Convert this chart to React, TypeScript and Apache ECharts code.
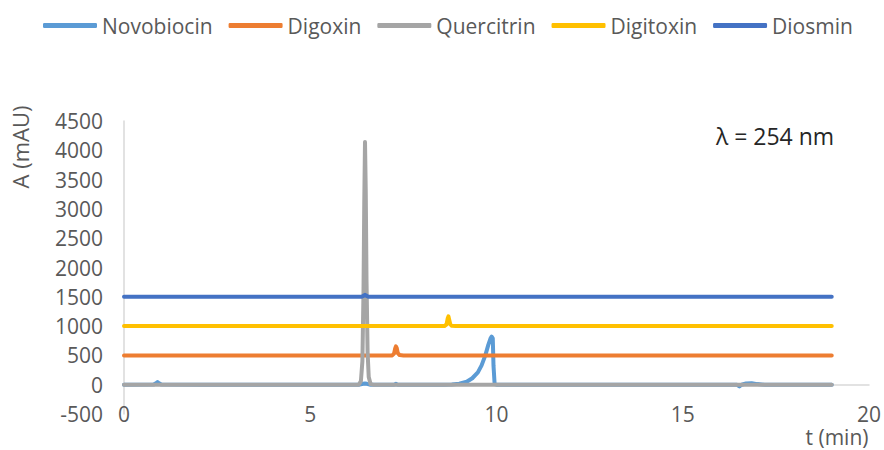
import React, { useEffect, useRef } from "react";
import * as echarts from "echarts";

// time (min), absorbance (mAU)
const novobiocin: [number, number][] = [
  [0, 0], [0.8, 2], [0.86, 25], [0.9, 45], [0.94, 25], [1.0, 2], [2, 0], [5, 0],
  [6.3, 0], [6.42, 15], [6.47, 20], [6.52, 15], [6.6, 0], [7.25, 0], [7.3, 15], [7.35, 0],
  [8.6, 0], [8.8, 5], [9.0, 18], [9.2, 50], [9.35, 110], [9.5, 210], [9.6, 330], [9.7, 500],
  [9.78, 680], [9.84, 790], [9.87, 820], [9.9, 790], [9.92, 320], [9.95, 10], [10.0, 0],
  [12, 0], [16.45, 0], [16.52, -30], [16.58, 0], [16.7, 20], [16.85, 25], [17.0, 10], [17.2, 0], [19, 0],
];
const digoxin: [number, number][] = [
  [0, 500], [7.2, 500], [7.25, 530], [7.28, 620], [7.3, 655], [7.32, 630], [7.35, 540], [7.4, 505], [7.5, 500], [19, 500],
];
const quercitrin: [number, number][] = [
  [0, 0], [6.3, 0], [6.36, 60], [6.4, 400], [6.43, 1600], [6.45, 3100], [6.47, 4140], [6.49, 3300],
  [6.51, 1800], [6.54, 550], [6.57, 130], [6.62, 10], [6.7, 0], [19, 0],
];
const digitoxin: [number, number][] = [
  [0, 1000], [8.6, 1000], [8.66, 1030], [8.69, 1130], [8.71, 1165], [8.73, 1110], [8.76, 1030], [8.8, 1005], [8.9, 1000], [19, 1000],
];
const diosmin: [number, number][] = [
  [0, 1500], [6.38, 1500], [6.44, 1520], [6.47, 1535], [6.5, 1520], [6.56, 1500], [19, 1500],
];

const seriesNames = ["Novobiocin", "Digoxin", "Quercitrin", "Digitoxin", "Diosmin"];
const seriesColors = ["#5B9BD5", "#ED7D31", "#A5A5A5", "#FFC000", "#4472C4"];
const seriesData = [novobiocin, digoxin, quercitrin, digitoxin, diosmin];

const yAxisTitle = "A (mAU)";
const xAxisTitle = "t (min)";
const annotation = "λ = 254 nm";

const FONT = "'Open Sans', 'Liberation Sans', sans-serif";

export default function App() {
  const ref = useRef<HTMLDivElement>(null);
  useEffect(() => {
    if (!ref.current) return;
    const chart = echarts.init(ref.current, undefined, { renderer: "svg" });
    chart.setOption({
      animation: false,
      backgroundColor: "#ffffff",
      legend: {
        left: 38,
        top: 10,
        itemWidth: 54,
        itemHeight: 5,
        itemGap: 16,
        icon: "roundRect",
        textStyle: { fontFamily: FONT, fontSize: 21, color: "#595959" },
        data: seriesNames,
      },
      grid: { left: 124, right: 13, top: 121, bottom: 36, containLabel: false },
      xAxis: [
        {
          type: "value",
          min: 0,
          max: 20,
          interval: 5,
          position: "bottom",
          axisLine: { show: false, onZero: false },
          axisTick: { show: false },
          splitLine: { show: false },
          axisLabel: {
            margin: 0,
            verticalAlign: "middle",
            lineHeight: 20,
            fontFamily: FONT,
            fontSize: 21,
            color: "#595959",
          },
        },
        {
          type: "value",
          min: 0,
          max: 20,
          interval: 5,
          position: "bottom",
          axisLine: { show: true, onZero: true, lineStyle: { color: "#d9d9d9", width: 1.5 } },
          axisTick: { show: false },
          splitLine: { show: false },
          axisLabel: { show: false },
        },
      ],
      yAxis: {
        type: "value",
        min: -500,
        max: 4500,
        interval: 500,
        axisLine: { show: true, lineStyle: { color: "#d9d9d9", width: 1.5 } },
        axisTick: { show: false },
        splitLine: { show: false },
        axisLabel: {
          margin: 21,
          fontFamily: FONT,
          fontSize: 21,
          color: "#595959",
          formatter: (v: number) => String(v),
        },
      },
      series: seriesNames.map((name, i) => ({
        name,
        type: "line",
        data: seriesData[i],
        xAxisIndex: 0,
        showSymbol: false,
        symbol: "none",
        color: seriesColors[i],
        lineStyle: { width: 4, color: seriesColors[i], cap: "round", join: "round" },
      })),
      graphic: [
        {
          type: "text",
          x: 20,
          y: 147,
          rotation: Math.PI / 2,
          style: {
            text: yAxisTitle,
            fill: "#595959",
            fontFamily: FONT,
            fontSize: 22,
            align: "center",
            verticalAlign: "middle",
            textAlign: "center",
            textVerticalAlign: "middle",
          },
        },
        {
          type: "text",
          x: 837,
          y: 437,
          style: {
            text: xAxisTitle,
            fill: "#595959",
            fontFamily: FONT,
            fontSize: 21,
            lineHeight: 21,
            align: "center",
            verticalAlign: "middle",
            textAlign: "center",
            textVerticalAlign: "middle",
          },
        },
        {
          type: "text",
          x: 775,
          y: 136,
          style: {
            text: annotation,
            fill: "#262626",
            fontFamily: FONT,
            fontSize: 23,
            align: "center",
            verticalAlign: "middle",
            textAlign: "center",
            textVerticalAlign: "middle",
          },
        },
      ],
    });
    return () => chart.dispose();
  }, []);
  return (
    <div
      ref={ref}
      style={{ position: "fixed", left: 0, top: 0, width: 884, height: 450 }}
    />
  );
}
